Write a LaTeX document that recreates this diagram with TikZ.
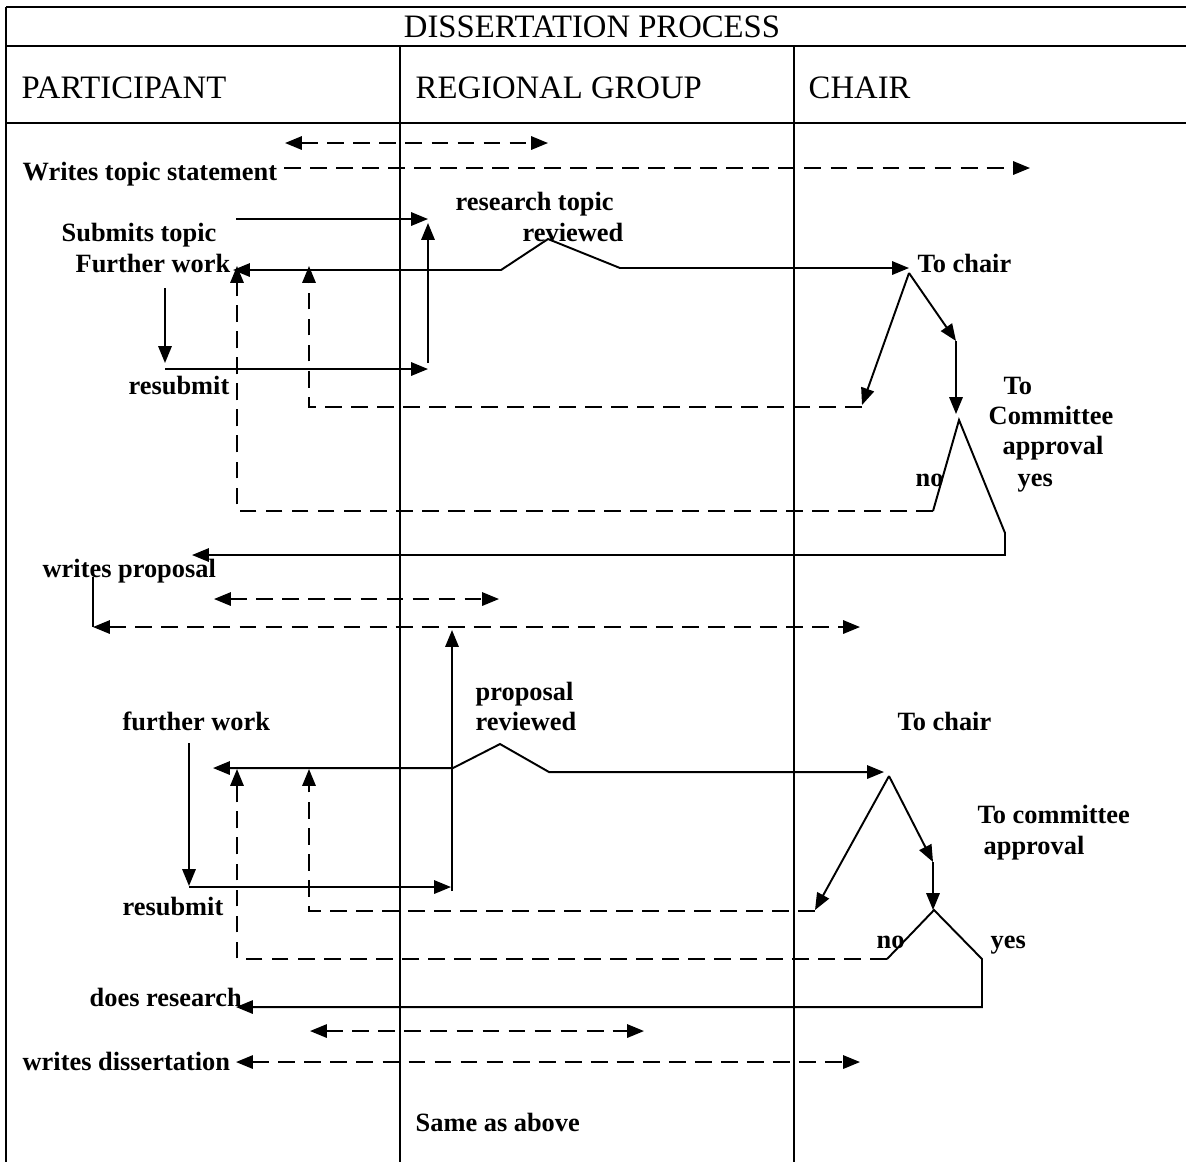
\documentclass[tikz,border=0pt]{standalone}
\usepackage{fontspec}
\setmainfont{Liberation Serif}
\usetikzlibrary{arrows.meta}

\begin{document}
\begin{tikzpicture}[
    x=0.01cm,y=-0.01cm,>={Triangle[length=4.8pt,width=3.8pt]},
    rule/.style={line width=0.65pt},
    flow/.style={->,line width=0.55pt},
    back/.style={flow,dash pattern=on 4.8pt off 2.6pt},
    head/.style={anchor=west,inner sep=0pt,font=\fontsize{9.3}{11}\selectfont},
    lbl/.style={anchor=west,inner sep=0pt,text height=6.2pt,text depth=1.6pt,
      font=\bfseries\fontsize{7.5}{9}\selectfont}
]
\useasboundingbox (0,0) rectangle (1186,1162);

\draw[rule] (6,7) -- (1186,7);
\foreach \y in {46,123} \draw[rule] (6,\y) -- (1186,\y);
\draw[rule] (6,7) -- (6,1162);
\foreach \x in {400,794} \draw[rule] (\x,46) -- (\x,1162);

\node[head,anchor=center] (title) at (592,27) {DISSERTATION PROCESS};
\node[head] (hdPart) at (21,88) {PARTICIPANT};
\node[head] (hdGroup) at (415,88) {REGIONAL GROUP};
\node[head] (hdChair) at (808,88) {CHAIR};

\node[lbl] (topicStmt) at (22,172) {Writes topic statement};
\node[lbl] (submits) at (61,233) {Submits topic};
\node[lbl] (furtherA) at (75,264) {Further work};
\node[lbl] (resubA) at (128,386) {resubmit};
\node[lbl] (reviewTopA) at (455,202) {research topic};
\node[lbl] (reviewA) at (522,233) {reviewed};
\node[lbl] (chairA) at (917,264) {To chair};
\node[lbl] (toA) at (1003,386) {To};
\node[lbl] (commA) at (988,416) {Committee};
\node[lbl] (approvA) at (1002,446) {approval};
\node[lbl] (yesA) at (1017,478) {yes};
\node[lbl] (noA) at (915,478) {no};

\node[lbl] (proposal) at (42,569) {writes proposal};
\node[lbl] (furtherB) at (122,722) {further work};
\node[lbl] (reviewTopB) at (475,692) {proposal};
\node[lbl] (reviewB) at (475,722) {reviewed};
\node[lbl] (chairB) at (897,722) {To chair};
\node[lbl] (commB) at (977,815) {To committee};
\node[lbl] (approvB) at (983,846) {approval};
\node[lbl] (noB) at (876,940) {no};
\node[lbl] (yesB) at (990,940) {yes};
\node[lbl] (resubB) at (122,907) {resubmit};

\node[lbl] (research) at (89,998) {does research};
\node[lbl] (dissert) at (22,1062) {writes dissertation};
\node[lbl] (same) at (415,1123) {Same as above};

\foreach \n/\x/\y in {swapAl/285/143,swapAr/548/143,stmtA/284/168,stmtB/1030/168,
    subA/236/219,gateA/428/219,reUpA/428/363,gateB/428/223,
    downA/165/288,downB/165/363,resA/165/369,resB/428/369,
    fwA/233/270,revA/501/270,peakA/548/239,revB/620/268,chA/909/268,
    splitA/909/273,midA/956/341,comA/956/414,retA/862/405,
    retB/862/407,retC/309/407,retD/309/266,
    noA1/933/511,apexA/959/420,yesA1/1005/533,yesA2/1005/555,propIn/192/555,
    noA2/237/511,noA3/237/266}
  \coordinate (\n) at (\x,\y);

\foreach \n/\x/\y in {propA/93/577,propB/93/627,propC/860/627,
    swapBl/214/599,swapBr/499/599,upB1/452/891,upB2/452/630,
    downC/189/743,downD/189/886,resC/189/887,resD/451/887,
    fwB/213/768,revC/453/768,peakB/500/744,revD/549/772,chB/884/772,
    splitB/889/776,midB/933/862,comB/933/910,retE/815/910,
    retF/815/911,retG/309/911,retH/309/769,
    noB1/887/959,apexB/934/910,yesB1/982/959,yesB2/982/1007,resIn/236/1007,
    noB2/237/959,noB3/237/769,
    swapCl/310/1031,swapCr/644/1031,dissA/236/1062,dissB/860/1062}
  \coordinate (\n) at (\x,\y);

\draw[back,<->] (swapAl) -- (swapAr);
\draw[back] (stmtA) -- (stmtB);
\draw[flow] (subA) -- (gateA);
\draw[flow] (reUpA) -- (gateB);
\draw[flow] (downA) -- (downB);
\draw[flow] (resA) -- (resB);
\draw[flow,<->] (fwA) -- (revA) -- (peakA) -- (revB) -- (chA);
\draw[flow] (splitA) -- (midA);
\draw[flow] (midA) -- (comA);
\draw[flow] (splitA) -- (retA);
\draw[back] (retB) -- (retC) -- (retD);
\draw[flow] (noA1) -- (apexA) -- (yesA1) -- (yesA2) -- (propIn);
\draw[back] (noA1) -- (noA2) -- (noA3);

\draw[line width=0.55pt] (propA) -- (propB);
\draw[back,<->] (propB) -- (propC);
\draw[back,<->] (swapBl) -- (swapBr);
\draw[flow] (upB1) -- (upB2);
\draw[flow] (downC) -- (downD);
\draw[flow] (resC) -- (resD);
\draw[flow,<->] (fwB) -- (revC) -- (peakB) -- (revD) -- (chB);
\draw[flow] (splitB) -- (midB);
\draw[flow] (midB) -- (comB);
\draw[flow] (splitB) -- (retE);
\draw[back] (retF) -- (retG) -- (retH);
\draw[flow] (noB1) -- (apexB) -- (yesB1) -- (yesB2) -- (resIn);
\draw[back] (noB1) -- (noB2) -- (noB3);

\draw[back,<->] (swapCl) -- (swapCr);
\draw[back,<->] (dissA) -- (dissB);
\end{tikzpicture}
\end{document}
